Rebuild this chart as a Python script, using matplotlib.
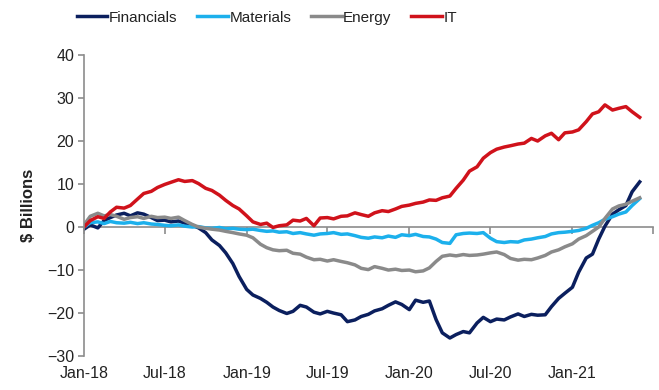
import numpy as np
import pandas as pd
import matplotlib
matplotlib.use("Agg")
import matplotlib.pyplot as plt

plt.rcParams['font.family'] = ['Liberation Sans', 'DejaVu Sans']

# semi-monthly observations, Jan-2018 .. mid Jun-2021 ($ billions)
dates = pd.date_range("2018-01-01", periods=83, freq="SMS")

financials = [-0.5, 0.5, -0.2, 1.5, 2.2, 2.8, 3.2, 2.6, 3.3, 3.0, 2.2, 1.5, 1.6, 1.2, 1.4, 0.9, 0.4,
              -0.2, -1.3, -3.0, -4.3, -6.0, -8.5, -11.5, -14.5, -15.8, -16.6, -17.5, -18.6, -19.4,
              -20.1, -19.6, -18.2, -18.6, -19.8, -20.2, -19.6, -20.0, -20.4, -22.0, -21.6, -20.8,
              -20.3, -19.5, -19.0, -18.2, -17.4, -18.0, -19.2, -17.0, -17.5, -17.2, -21.5, -24.6,
              -25.8, -25.0, -24.3, -24.6, -22.3, -21.0, -22.0, -21.4, -21.6, -20.9, -20.2, -20.8,
              -20.3, -20.5, -20.4, -18.5, -16.6, -15.4, -14.0, -10.5, -7.2, -6.3, -2.8, 0.2, 3.0,
              4.0, 5.0, 8.2, 10.5]

materials = [0.0, 1.0, 1.2, 0.8, 1.3, 1.0, 0.9, 1.1, 0.8, 1.0, 0.7, 0.6, 0.4, 0.3, 0.5, 0.2, 0.0,
             0.1, -0.2, -0.3, -0.1, -0.4, -0.3, -0.5, -0.6, -0.5, -0.8, -1.0, -0.9, -1.2, -1.1,
             -1.5, -1.3, -1.6, -1.9, -1.6, -1.5, -1.3, -1.7, -1.6, -2.0, -2.4, -2.6, -2.3, -2.5,
             -2.1, -2.4, -1.8, -2.0, -1.7, -2.2, -2.3, -2.8, -3.6, -3.8, -1.8, -1.5, -1.4, -1.5,
             -1.3, -2.6, -3.4, -3.6, -3.4, -3.5, -3.0, -2.8, -2.5, -2.2, -1.6, -1.3, -1.2, -1.0,
             -0.8, -0.3, 0.4, 1.0, 1.8, 2.4, 3.0, 3.5, 5.0, 6.6]

energy = [0.5, 2.5, 3.2, 2.6, 2.9, 2.5, 1.8, 2.2, 2.4, 2.0, 2.5, 2.2, 2.3, 2.0, 2.3, 1.5, 0.6,
          0.0, -0.3, -0.5, -0.7, -1.0, -1.3, -1.6, -1.9, -2.5, -4.0, -4.8, -5.3, -5.5, -5.4,
          -6.1, -6.3, -7.0, -7.6, -7.5, -7.9, -7.6, -8.0, -8.3, -8.8, -9.6, -9.9, -9.2, -9.6,
          -10.0, -9.8, -10.1, -10.0, -10.4, -10.2, -9.5, -8.0, -6.8, -6.5, -6.7, -6.4, -6.6,
          -6.5, -6.3, -6.0, -5.8, -6.4, -7.3, -7.7, -7.5, -7.6, -7.2, -6.6, -5.8, -5.3, -4.6,
          -3.9, -2.8, -2.0, -1.0, 0.0, 2.0, 4.2, 4.9, 5.3, 6.0, 6.8]

it = [0.0, 1.5, 2.4, 2.0, 3.5, 4.6, 4.4, 5.0, 6.5, 7.8, 8.3, 9.2, 9.9, 10.4, 11.0, 10.6, 10.8,
      10.1, 9.0, 8.5, 7.4, 6.2, 5.0, 4.2, 2.6, 1.2, 0.6, 0.9, -0.1, 0.3, 0.5, 1.6, 1.4, 2.0,
      0.3, 2.1, 2.2, 1.9, 2.5, 2.6, 3.3, 2.9, 2.5, 3.3, 3.8, 3.6, 4.2, 4.8, 5.1, 5.5, 5.8,
      6.3, 6.2, 6.8, 7.2, 9.0, 10.9, 13.0, 14.0, 16.0, 17.3, 18.1, 18.6, 18.9, 19.3, 19.5,
      20.6, 20.0, 21.2, 21.8, 20.3, 21.9, 22.1, 22.6, 24.5, 26.3, 26.8, 28.4, 27.2, 27.6,
      28.0, 26.8, 25.5]

series = [("Financials", financials, "#0b1f5e"),
          ("Materials", materials, "#1cb0ec"),
          ("Energy", energy, "#8a8a8a"),
          ("IT", it, "#d0121b")]

tick_dates = pd.date_range("2018-01-01", "2021-07-01", freq="6MS")
tick_labels = ["Jan-18", "Jul-18", "Jan-19", "Jul-19", "Jan-20", "Jul-20", "Jan-21", ""]

fig = plt.figure(figsize=(6.59, 3.90), dpi=100)
ax = fig.add_axes([0.1275, 0.087, 0.8635, 0.772])

for name, vals, col in series:
    ax.plot(dates, vals, color=col, lw=2.5, label=name, solid_joinstyle="round")

ax.set_xlim(pd.Timestamp("2018-01-01"), pd.Timestamp("2021-07-01"))
ax.set_ylim(-30, 40)
ax.set_yticks(np.arange(-30, 41, 10))

axis_col = "#8c8c8c"
ax.spines[["top", "right", "bottom"]].set_visible(False)
ax.spines["left"].set_color(axis_col)
ax.spines["left"].set_linewidth(1.2)
ax.tick_params(axis="y", direction="out", length=4, color=axis_col, width=1.2,
               labelsize=11.5, labelcolor="#222222", pad=3)

# date labels along the bottom, tick marks on the zero line
ax.set_xticks(tick_dates)
ax.set_xticklabels(tick_labels)
ax.tick_params(axis="x", length=0, labelsize=11.5, labelcolor="#222222", pad=7)

zero = ax.secondary_xaxis(30 / 70)
zero.set_xticks(tick_dates)
zero.set_xticklabels([])
zero.spines["bottom"].set_color(axis_col)
zero.spines["bottom"].set_linewidth(1.2)
zero.tick_params(direction="out", length=5, color=axis_col, width=1.2)

ax.set_ylabel("$ Billions", fontsize=12, fontweight="bold", color="#222222", labelpad=8)

fig.legend(loc="center", bbox_to_anchor=(0.405, 0.955), ncol=4, frameon=False,
           fontsize=11, handlelength=2.0, handletextpad=0.1, columnspacing=1.3,
           labelcolor="#222222")

fig.savefig("out.png", dpi=100)
